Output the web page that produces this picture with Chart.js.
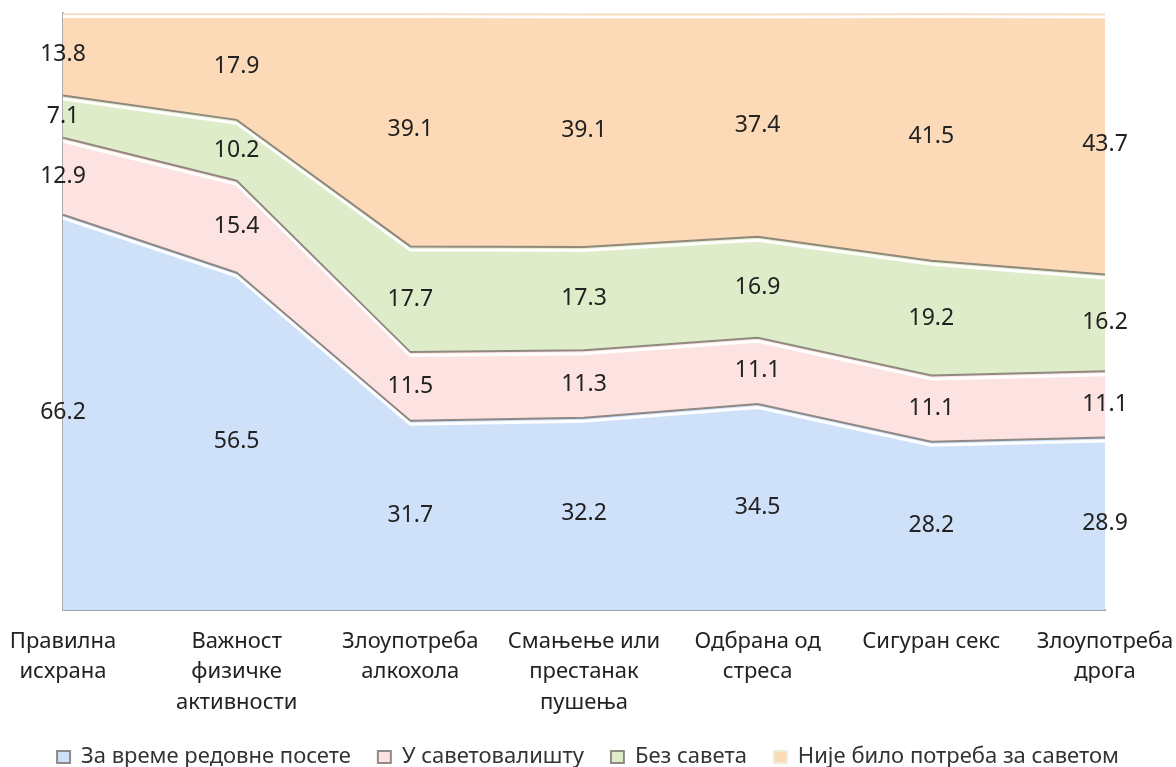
<!DOCTYPE html>
<html>
<head>
<meta charset="utf-8">
<script src="https://cdn.jsdelivr.net/npm/chart.js@4/dist/chart.umd.min.js"></script>
<style>
html,body{margin:0;padding:0;background:#fff;overflow:hidden}
#caja{width:1176px;height:767px}
</style>
</head>
<body>
<div id="caja"><canvas id="grafico"></canvas></div>
<script>
var categorias = [["Правилна","исхрана"],["Важност","физичке","активности"],["Злоупотреба","алкохола"],["Смањење или","престанак","пушења"],["Одбрана од","стреса"],["Сигуран секс"],["Злоупотреба","дрога"]];
var redovnaPoseta = [66.2,56.5,31.7,32.2,34.5,28.2,28.9];
var savetovaliste = [12.9,15.4,11.5,11.3,11.1,11.1,11.1];
var bezSaveta = [7.1,10.2,17.7,17.3,16.9,19.2,16.2];
var nijePotreba = [13.8,17.9,39.1,39.1,37.4,41.5,43.7];

var fuente = '"Noto Sans", sans-serif';

// linea blanca bajo cada borde (efecto bisel)
var bisel = {
    id: 'bisel',
    afterDatasetsDraw: function(chart){
        var ctx = chart.ctx, area = chart.chartArea;
        ctx.save();
        ctx.beginPath();
        ctx.rect(area.left, area.top, area.right-area.left, area.bottom-area.top);
        ctx.clip();
        chart.data.datasets.forEach(function(ds, i){
            var pts = chart.getDatasetMeta(i).data;
            ctx.beginPath();
            pts.forEach(function(p, j){
                if(j==0) ctx.moveTo(p.x, p.y+3.5); else ctx.lineTo(p.x, p.y+3.5);
            });
            ctx.strokeStyle = 'rgba(255,255,255,0.95)';
            ctx.lineWidth = 3;
            ctx.stroke();
        });
        ctx.restore();
    }
};

var etiquetas = {
    id: 'etiquetas',
    afterDatasetsDraw: function(chart){
        var ctx = chart.ctx, y = chart.scales.y;
        var base = [0,0,0,0,0,0,0];
        ctx.save();
        ctx.font = '23px ' + fuente;
        ctx.fillStyle = '#222';
        ctx.textAlign = 'center';
        ctx.textBaseline = 'middle';
        chart.data.datasets.forEach(function(ds, i){
            var pts = chart.getDatasetMeta(i).data;
            ds.data.forEach(function(v, j){
                var yc = y.getPixelForValue(base[j] + v/2);
                base[j] += v;
                ctx.fillText(v.toFixed(1), pts[j].x, yc);
            });
        });
        ctx.restore();
    }
};

var ctx = document.getElementById('grafico').getContext('2d');
var chart = new Chart(ctx, {
    type: 'line',
    data: {
        labels: categorias,
        datasets: [
            {label: 'За време редовне посете', data: redovnaPoseta, backgroundColor: '#cfe1f8', borderColor: 'rgba(120,112,105,0.8)', fill: 'origin'},
            {label: 'У саветовалишту', data: savetovaliste, backgroundColor: '#fce3e2', borderColor: 'rgba(120,112,105,0.8)', fill: '-1'},
            {label: 'Без савета', data: bezSaveta, backgroundColor: '#deecca', borderColor: 'rgba(120,112,105,0.8)', fill: '-1'},
            {label: 'Није било потреба за саветом', data: nijePotreba, backgroundColor: '#fcdab7', borderColor: 'rgba(240,235,215,1)', fill: '-1'}
        ]
    },
    options: {
        responsive: true,
        maintainAspectRatio: false,
        animation: false,
        events: [],
        elements: {
            point: {radius: 0},
            line: {borderWidth: 2, tension: 0}
        },
        layout: {padding: {left: 0, right: 0, top: 13, bottom: -11}},
        scales: {
            x: {
                offset: false,
                grid: {display: false, drawTicks: false},
                border: {display: true, color: '#9aa3ad', width: 2},
                ticks: {color: '#222', font: {family: fuente, size: 22, lineHeight: 1.4}, padding: 16, maxRotation: 0, autoSkip: false},
                afterFit: function(scale){
                    scale.height = 109;
                    scale.paddingLeft = 0;
                    scale.paddingRight = 71;
                }
            },
            y: {
                stacked: true,
                min: 0,
                max: 100,
                grid: {display: false, drawTicks: false},
                border: {display: true, color: '#a7adb3', width: 2},
                ticks: {display: false},
                afterFit: function(scale){ scale.width = 63; }
            }
        },
        plugins: {
            legend: {
                position: 'bottom',
                labels: {color: '#333', font: {family: fuente, size: 22}, boxWidth: 13, boxHeight: 12, padding: 27}
            },
            tooltip: {enabled: false}
        }
    },
    plugins: [bisel, etiquetas]
});
</script>
</body>
</html>
